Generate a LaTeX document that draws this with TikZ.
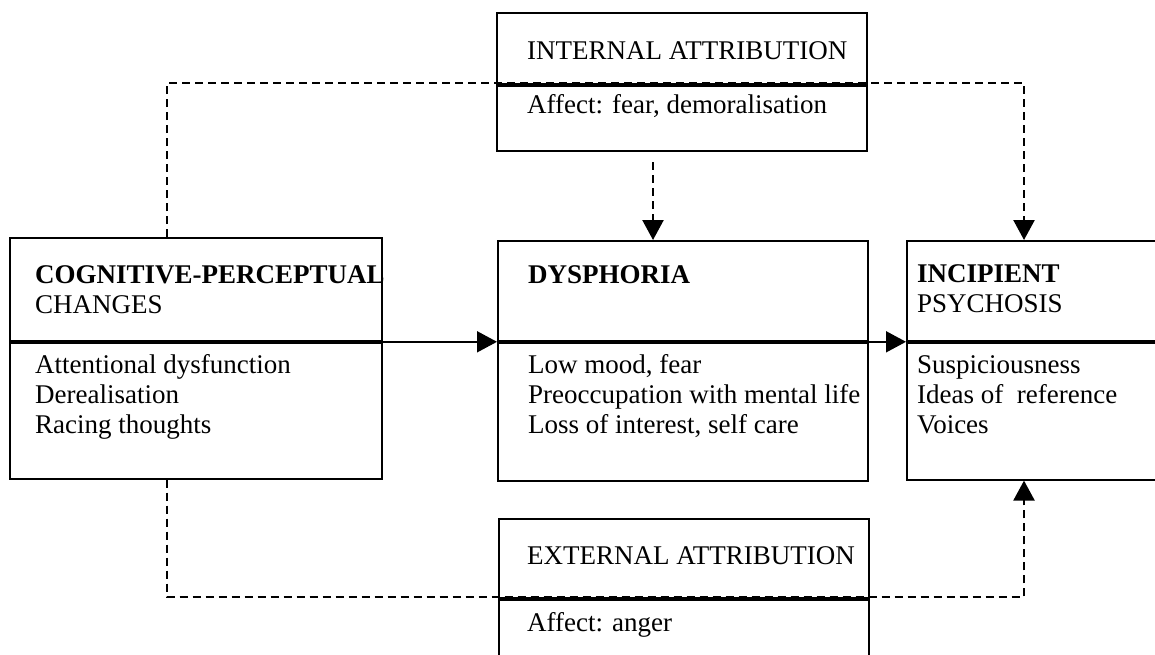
\documentclass[tikz,border=0pt]{standalone}
\usepackage{fontspec}
\setmainfont{Liberation Serif}
\usepackage{tikz}
\usetikzlibrary{positioning,calc}
\usetikzlibrary{arrows.meta}

\tikzset{
  boxpart/.style={draw, line width=1.8pt, anchor=north west, inner sep=0pt},
  txt/.style={anchor=base west, align=left, inner sep=0pt, font=\fontsize{27}{30}\selectfont},
  flow/.style={line width=1.8pt, -{Triangle[length=20pt,width=21pt]}},
  dashflow/.style={line width=2.4pt, dash pattern=on 8pt off 5pt, -{Triangle[length=20pt,width=21pt]}}
}

\begin{document}
\begin{tikzpicture}[x=1pt,y=-1pt]
  \useasboundingbox (0,0) rectangle (1155,654);

  % Top box (internal attribution)
  \node[boxpart, minimum width=370pt, minimum height=71pt] (inthead) at (496,12) {};
  \node[boxpart, minimum width=370pt, minimum height=65pt] (intbody) at (inthead.south west) {};
  \node[txt] (intname) at (527,59) {INTERNAL ATTRIBUTION};
  \node[txt] (intaffect) at (527,113) {Affect: fear, demoralisation};

  % Left box (cognitive-perceptual changes)
  % (base of a multi-line node = its last line)
  \node[boxpart, minimum width=372pt, minimum height=103pt] (coghead) at (9,237) {};
  \node[boxpart, minimum width=372pt, minimum height=136pt] (cogbody) at (coghead.south west) {};
  \node[txt] (cogname) at (35,313) {\textbf{COGNITIVE-PERCEPTUAL}\\CHANGES};
  \node[txt] (cogsigns) at (35,433) {Attentional dysfunction\\Derealisation\\Racing thoughts};

  % Middle box (dysphoria)
  \node[boxpart, minimum width=370pt, minimum height=100pt] (dyshead) at (497,240) {};
  \node[boxpart, minimum width=370pt, minimum height=138pt] (dysbody) at (dyshead.south west) {};
  \node[txt] (dysname) at (528,283) {\textbf{DYSPHORIA}};
  \node[txt] (dyssigns) at (528,433) {Low mood, fear\\Preoccupation with mental life\\Loss of interest, self care};

  % Right box (incipient psychosis), runs off the page
  \node[boxpart, minimum width=260pt, minimum height=100pt] (inchead) at (906,240) {};
  \node[boxpart, minimum width=260pt, minimum height=137pt] (incbody) at (inchead.south west) {};
  \node[txt] (incname) at (917,312) {\textbf{INCIPIENT}\\PSYCHOSIS};
  \node[txt] (incsigns) at (917,433) {Suspiciousness\\Ideas of~ reference\\Voices};

  % Bottom box (external attribution), runs off the page
  \node[boxpart, minimum width=370pt, minimum height=79pt] (exthead) at (498,518) {};
  \node[boxpart, minimum width=370pt, minimum height=70pt] (extbody) at (exthead.south west) {};
  \node[txt] (extname) at (527,564) {EXTERNAL ATTRIBUTION};
  \node[txt] (extaffect) at (527,631) {Affect: anger};

  % Main sequence
  \draw[flow] (coghead.south east) -- (dyshead.south west);
  \draw[flow] (dyshead.south east) -- (inchead.south west);

  % Internal attribution feeds dysphoria
  \coordinate (intdrop) at (653,162);
  \draw[dashflow] (intdrop) -- (intdrop |- dyshead.north);

  % Attribution routes to psychosis
  \coordinate (topleft) at (167,83);
  \coordinate (topright) at (1024,83);
  \draw[dashflow] (topleft |- coghead.north) -- (topleft) -- (topright) -- (topright |- inchead.north);
  \coordinate (botleft) at (167,597);
  \coordinate (botright) at (1024,597);
  \draw[dashflow] (botleft |- cogbody.south) -- (botleft) -- (botright) -- (botright |- incbody.south);
\end{tikzpicture}
\end{document}
